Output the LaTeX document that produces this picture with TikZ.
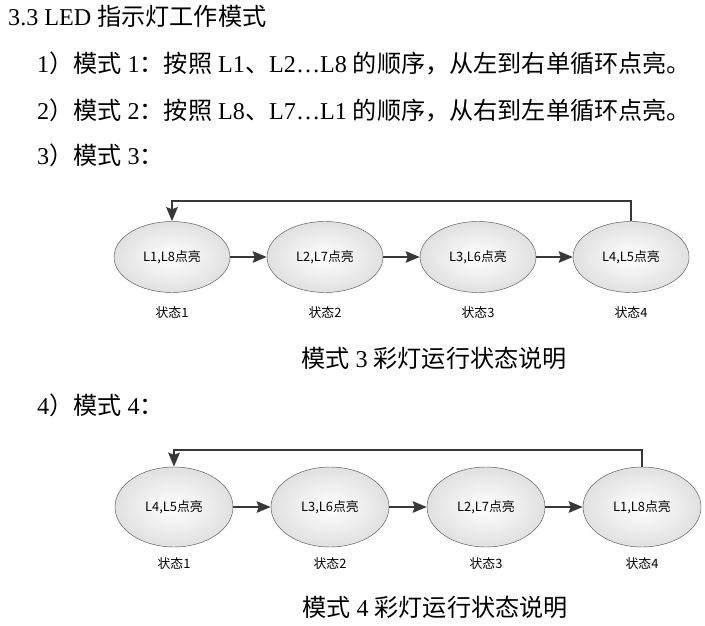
\documentclass[tikz,border=0pt]{standalone}
\usepackage{fontspec}
\setmainfont{Liberation Serif}
\newfontfamily\cjk{Noto Sans CJK SC}
\usepackage{tikz}
\usetikzlibrary{shapes.geometric, arrows.meta}
\definecolor{linegray}{HTML}{383838}
\newcommand{\zh}[1]{{\cjk #1}}
\tikzstyle{bodytext} = [anchor=west,
    inner sep=0pt,
    font=\fontsize{20.6}{24}\selectfont]
\tikzstyle{caption} = [inner sep=0pt,
    font=\fontsize{20.6}{24}\selectfont]
\tikzstyle{state} = [ellipse,
    minimum width=3.48cm,
    minimum height=2.13cm,
    draw=black!65,
    inner color=white,
    outer color=black!12,
    font=\cjk\fontsize{11}{13}\selectfont]
\tikzstyle{statelabel} = [font=\cjk\fontsize{11}{13}\selectfont]
\tikzstyle{arrow} = [draw=linegray,
    line width=2pt,
    -{Stealth[length=4.2mm, width=3.4mm, inset=0.6mm]}]

\begin{document}
\begin{tikzpicture}[x=0.03cm, y=-0.03cm]
    \useasboundingbox (0,0) rectangle (705,626);

    \node (title) [bodytext] at (8,16) {3.3 LED \zh{指示灯工作模式}};
    \node (mode1) [bodytext] at (37,63) {1\zh{）模式} 1\zh{：按照} L1\zh{、}L2…L8 \zh{的顺序，从左到右单循环点亮。}};
    \node (mode2) [bodytext] at (37,110) {2\zh{）模式} 2\zh{：按照} L8\zh{、}L7…L1 \zh{的顺序，从右到左单循环点亮。}};
    \node (mode3) [bodytext] at (37,155) {3\zh{）模式} 3\zh{：}};

    % mode 3 states
    \begin{scope}[node distance=4.59cm]
        \node (a1) [state] at (172,257) {L1,L8点亮};
        \node (a2) [state, right of=a1] {L2,L7点亮};
        \node (a3) [state, right of=a2] {L3,L6点亮};
        \node (a4) [state, right of=a3] {L4,L5点亮};
    \end{scope}
    \node (a1l) [statelabel, below of=a1, node distance=1.68cm] {状态1};
    \node (a2l) [statelabel, below of=a2, node distance=1.68cm] {状态2};
    \node (a3l) [statelabel, below of=a3, node distance=1.68cm] {状态3};
    \node (a4l) [statelabel, below of=a4, node distance=1.68cm] {状态4};

    \draw [arrow] (a1) -- (a2);
    \draw [arrow] (a2) -- (a3);
    \draw [arrow] (a3) -- (a4);
    \draw [arrow] (a4.north) -- ++(0,-20) -| (a1.north);

    \node (cap3) [caption] at (434,358) {\zh{模式} 3 \zh{彩灯运行状态说明}};

    \node (mode4) [bodytext] at (37,405) {4\zh{）模式} 4\zh{：}};

    % mode 4 states
    \begin{scope}[node distance=4.68cm]
        \node (b1) [state, minimum width=3.54cm, minimum height=2.4cm] at (174,507) {L4,L5点亮};
        \node (b2) [state, minimum width=3.54cm, minimum height=2.4cm, right of=b1] {L3,L6点亮};
        \node (b3) [state, minimum width=3.54cm, minimum height=2.4cm, right of=b2] {L2,L7点亮};
        \node (b4) [state, minimum width=3.54cm, minimum height=2.4cm, right of=b3] {L1,L8点亮};
    \end{scope}
    \node (b1l) [statelabel, below of=b1, node distance=1.71cm] {状态1};
    \node (b2l) [statelabel, below of=b2, node distance=1.71cm] {状态2};
    \node (b3l) [statelabel, below of=b3, node distance=1.71cm] {状态3};
    \node (b4l) [statelabel, below of=b4, node distance=1.71cm] {状态4};

    \draw [arrow] (b1) -- (b2);
    \draw [arrow] (b2) -- (b3);
    \draw [arrow] (b3) -- (b4);
    \draw [arrow] (b4.north) -- ++(0,-17) -| (b1.north);

    \node (cap4) [caption] at (435,607) {\zh{模式} 4 \zh{彩灯运行状态说明}};
\end{tikzpicture}
\end{document}
